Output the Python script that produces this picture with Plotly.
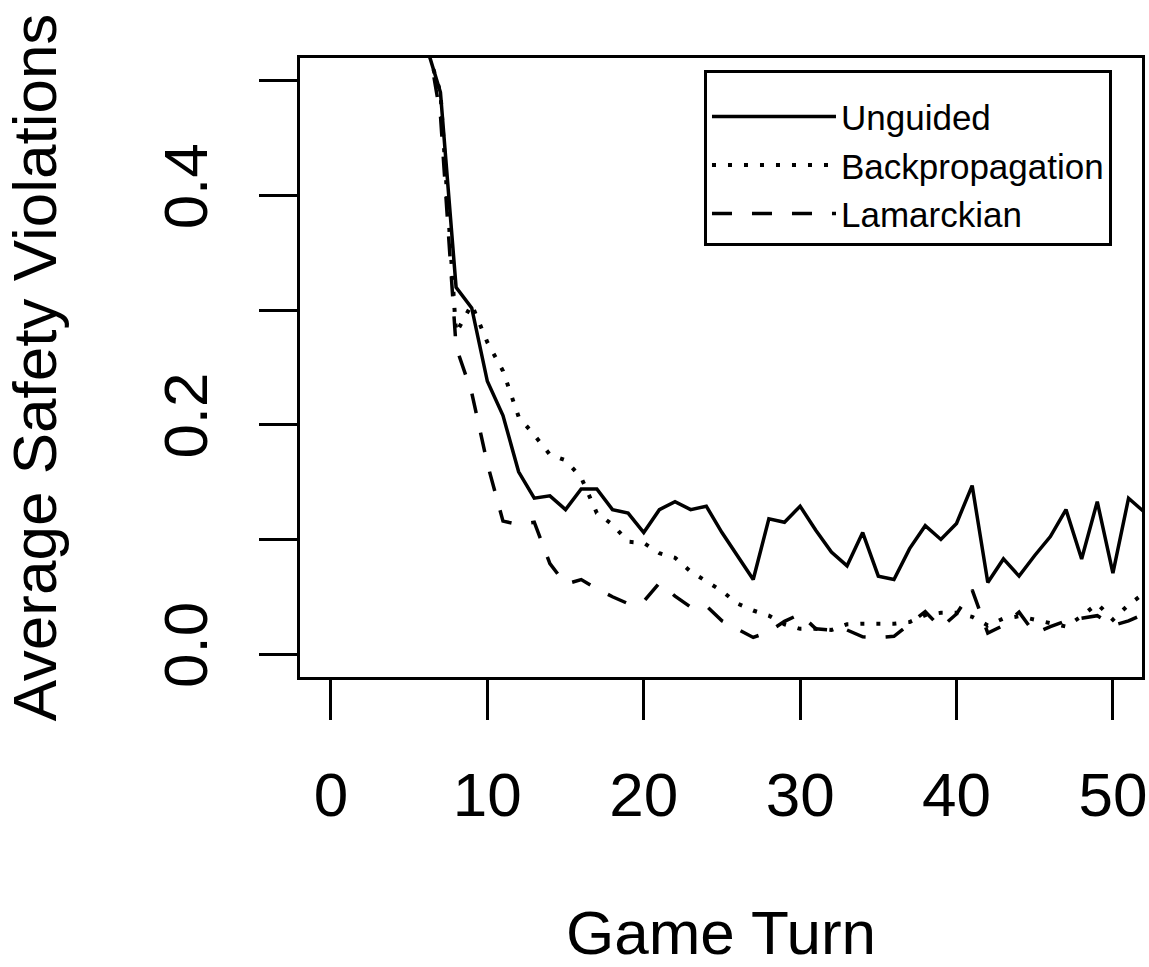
import plotly.graph_objects as go

turns = list(range(1, 53))

unguided = [0.95, 0.85, 0.76, 0.67, 0.60, 0.535, 0.490, 0.320, 0.302, 0.238,
            0.208, 0.159, 0.136, 0.138, 0.126, 0.144, 0.144, 0.126, 0.123, 0.106,
            0.126, 0.133, 0.126, 0.129, 0.106, 0.086, 0.065, 0.118, 0.115, 0.129,
            0.108, 0.089, 0.077, 0.106, 0.068, 0.065, 0.092, 0.112, 0.100, 0.114,
            0.147, 0.0625, 0.083, 0.068, 0.086, 0.1025, 0.126, 0.083, 0.133, 0.0706,
            0.136, 0.124]

backprop = [0.95, 0.85, 0.76, 0.67, 0.60, 0.535, 0.490, 0.280, 0.305, 0.272,
            0.247, 0.207, 0.191, 0.174, 0.169, 0.154, 0.123, 0.113, 0.098, 0.097,
            0.088, 0.084, 0.072, 0.063, 0.055, 0.044, 0.038, 0.0335, 0.026, 0.022,
            0.022, 0.021, 0.026, 0.0265, 0.0265, 0.0265, 0.028, 0.034, 0.036, 0.036,
            0.0325, 0.025, 0.031, 0.033, 0.030, 0.027, 0.024, 0.033, 0.044, 0.030,
            0.043, 0.053]

lamarckian = [0.95, 0.85, 0.76, 0.67, 0.60, 0.55, 0.470, 0.268, 0.228, 0.166,
              0.116, 0.113, 0.115, 0.079, 0.061, 0.065, 0.057, 0.050, 0.044, 0.046,
              0.062, 0.0505, 0.041, 0.042, 0.029, 0.022, 0.0145, 0.0195, 0.0285, 0.035,
              0.022, 0.021, 0.021, 0.015, 0.0145, 0.0155, 0.026, 0.037, 0.023, 0.035,
              0.056, 0.0183, 0.025, 0.0366, 0.018, 0.024, 0.029, 0.031, 0.0335, 0.025,
              0.029, 0.035]

x_ticks = [0, 10, 20, 30, 40, 50]
y_ticks = [0.0, 0.1, 0.2, 0.3, 0.4, 0.5]
y_tick_text = ["0.0", "", "0.2", "", "0.4", ""]

FONT = "Liberation Sans, Arial, Helvetica, sans-serif"

fig = go.Figure()
fig.add_trace(go.Scatter(x=turns, y=unguided, mode="lines", name="Unguided",
                         line=dict(color="black", width=3.5)))
fig.add_trace(go.Scatter(x=turns, y=backprop, mode="lines", name="Backpropagation",
                         line=dict(color="black", width=4, dash="4px,12px")))
fig.add_trace(go.Scatter(x=turns, y=lamarckian, mode="lines", name="Lamarckian",
                         line=dict(color="black", width=3.5, dash="20px,20px")))

fig.update_layout(
    width=1149, height=967,
    margin=dict(l=300, r=7, t=58, b=290, autoexpand=False),
    paper_bgcolor="white", plot_bgcolor="white",
    font=dict(family=FONT, color="black", size=62),
    showlegend=True,
    legend=dict(x=0.4798, y=0.9806, xanchor="left", yanchor="top",
                bordercolor="black", borderwidth=3, bgcolor="white",
                font=dict(size=35, family=FONT), itemwidth=124,
                tracegroupgap=0,
                title=dict(text=" ", font=dict(size=11, family=FONT))),
    xaxis=dict(range=[-1.98, 51.86], tickvals=x_ticks, ticks="outside",
               ticklen=40, tickwidth=2.5, tickcolor="black",
               showline=True, mirror=True, linewidth=3, linecolor="black",
               showgrid=False, zeroline=False, automargin=False,
               tickfont=dict(size=62, family=FONT), ticklabelstandoff=22,
               title=dict(text="Game Turn", font=dict(size=62, family=FONT), standoff=95)),
    yaxis=dict(range=[-0.02, 0.52], tickvals=y_ticks, ticktext=y_tick_text,
               tickangle=-90, ticks="outside",
               ticklen=38, tickwidth=2.5, tickcolor="black",
               showline=True, mirror=True, linewidth=3, linecolor="black",
               showgrid=False, zeroline=False, automargin=False,
               tickfont=dict(size=62, family=FONT), ticklabelstandoff=27,
               title=dict(text="Average Safety Violations", font=dict(size=62, family=FONT), standoff=78)),
)

fig.write_html("out.html")
